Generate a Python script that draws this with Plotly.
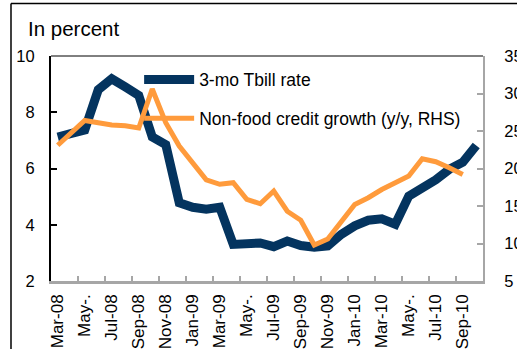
import plotly.graph_objects as go

# Monthly observations, Mar-08 .. Oct-10
months = ["Mar-08", "Apr-08", "May-08", "Jun-08", "Jul-08", "Aug-08", "Sep-08", "Oct-08",
          "Nov-08", "Dec-08", "Jan-09", "Feb-09", "Mar-09", "Apr-09", "May-09", "Jun-09",
          "Jul-09", "Aug-09", "Sep-09", "Oct-09", "Nov-09", "Dec-09", "Jan-10", "Feb-10",
          "Mar-10", "Apr-10", "May-10", "Jun-10", "Jul-10", "Aug-10", "Sep-10", "Oct-10"]

tbill_rate = [7.12, 7.26, 7.37, 8.80, 9.19, 8.90, 8.60, 7.12,
              6.85, 4.78, 4.62, 4.55, 4.62, 3.30, 3.30, 3.35,
              3.22, 3.42, 3.26, 3.20, 3.25, 3.66, 3.96, 4.16,
              4.21, 4.02, 5.02, 5.28, 5.60, 5.97, 6.22, 6.82]

credit_growth = [23.1, 24.7, 26.4, 26.1, 25.8, 25.7, 25.4, 30.6,
                 26.1, 23.0, 20.8, 18.5, 17.9, 18.1, 15.9, 15.3,
                 17.0, 14.3, 13.1, 9.8, 10.6, 12.8, 15.2, 16.1,
                 17.2, 18.1, 19.0, 21.3, 20.9, 20.1, 19.2, None]

tick_labels = ["Mar-08", "May-.", "Jul-08", "Sep-08", "Nov-08", "Jan-09", "Mar-09", "May-.",
               "Jul-09", "Sep-09", "Nov-09", "Jan-10", "Mar-10", "May-.", "Jul-10", "Sep-10"]

left_ticks = [2, 4, 6, 8, 10]
right_ticks = [5, 10, 15, 20, 25, 30, 35]

idx = list(range(len(months)))
FONT = "Liberation Sans, Arial, sans-serif"
BLUE = "#04345F"
ORANGE = "#FF9B3C"

fig = go.Figure()
fig.add_trace(go.Scatter(
    x=idx, y=tbill_rate, mode="lines", name="3-mo Tbill rate",
    line=dict(color=BLUE, width=9), legendgroup="a", customdata=months,
))
fig.add_trace(go.Scatter(
    x=idx, y=credit_growth, mode="lines", name="Non-food credit growth (y/y, RHS)",
    line=dict(color=ORANGE, width=5), yaxis="y2", legendgroup="b", customdata=months,
))

n = len(months)
fig.update_layout(
    width=517, height=349,
    margin=dict(l=51, r=34, t=56, b=68, autoexpand=False),
    paper_bgcolor="white", plot_bgcolor="white",
    font=dict(family=FONT, size=16, color="black"),
    showlegend=True,
    legend=dict(
        x=0.204, y=0.975, xanchor="left", yanchor="top",
        bgcolor="rgba(0,0,0,0)", font=dict(size=17.5),
        itemwidth=50, tracegroupgap=13, traceorder="grouped",
    ),
    xaxis=dict(
        range=[-0.5, n - 0.5], showgrid=False, zeroline=False, automargin=False,
        tickvals=[i - 0.5 for i in range(0, n, 2)],
        showticklabels=False, ticks="inside", ticklen=5, tickwidth=2,
        tickcolor="#A6A6A6", showline=True, linecolor="#A6A6A6", linewidth=3,
    ),
    xaxis2=dict(
        overlaying="x", anchor="y", side="bottom", matches="x", automargin=False,
        range=[-0.5, n - 0.5], showgrid=False, zeroline=False, showline=False,
        tickvals=list(range(0, n, 2)), ticktext=tick_labels,
        tickangle=-90, ticks="", ticklabelstandoff=9,
        tickfont=dict(size=17),
    ),
    yaxis=dict(
        range=[2, 10], tickvals=left_ticks, showgrid=False, zeroline=False, automargin=False,
        ticks="inside", ticklen=6, tickwidth=1.5, tickcolor="black",
        showline=True, linecolor="black", linewidth=2,
        ticklabelstandoff=11, tickfont=dict(size=16.5),
    ),
    yaxis2=dict(
        range=[5, 35], tickvals=right_ticks, overlaying="y", side="right",
        showgrid=False, zeroline=False, automargin=False,
        ticks="inside", ticklen=6, tickwidth=2, tickcolor="#A6A6A6",
        showline=True, linecolor="#A6A6A6", linewidth=2,
        ticklabelstandoff=16, tickfont=dict(size=16.5),
    ),
)

# hidden carrier trace so the label axis is drawn
fig.add_trace(go.Scatter(x=[0], y=[None], xaxis="x2", showlegend=False, hoverinfo="skip"))

# plot-area top edge and the outer frame
fig.add_shape(type="line", xref="paper", yref="paper", x0=0, x1=1, y0=1, y1=1,
              line=dict(color="black", width=1))
fig.add_shape(type="line", xref="paper", yref="paper", x0=-0.0926, x1=1.2, y0=1.233, y1=1.233,
              line=dict(color="black", width=1.5))
fig.add_shape(type="line", xref="paper", yref="paper", x0=-0.0926, x1=-0.0926, y0=-0.4, y1=1.233,
              line=dict(color="black", width=1.5))

fig.add_annotation(text="In percent", xref="paper", yref="paper", x=-0.058, y=1.124,
                   xanchor="left", yanchor="middle", showarrow=False,
                   font=dict(size=20.5, family=FONT))

fig.write_html("out.html")
